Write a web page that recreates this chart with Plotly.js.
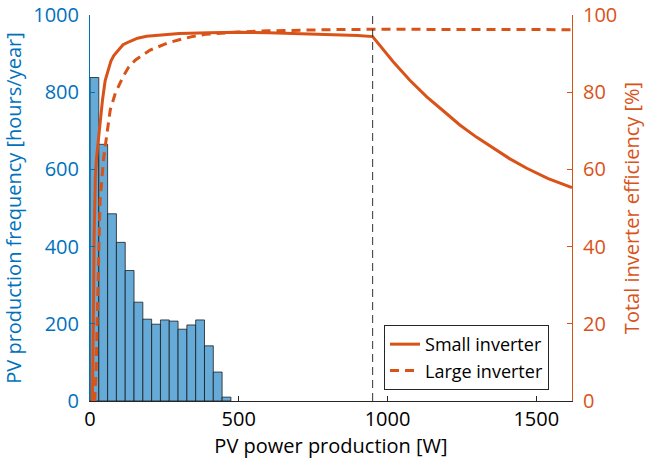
<!DOCTYPE html>
<html>
<head>
<meta charset="utf-8">
<script src="https://cdn.plot.ly/plotly-3.0.1.min.js"></script>
<style>html,body{margin:0;padding:0;background:#fff;}#chart{width:646px;height:464px;}</style>
</head>
<body>
<div id="chart"></div>
<script>
// Histogram: PV production frequency (hours/year) per power bin (W)
var binCenters = [14.8, 44.4, 74.0, 103.6, 133.2, 162.8, 192.4, 222.0, 251.6, 281.2, 310.8, 340.4, 370.0, 399.6, 429.2, 458.8];
var binHours   = [838, 665, 485, 411, 338, 256, 212, 199, 210, 207, 186, 197, 210, 143, 75, 10];
var binWidth = 29.6;

// Small inverter efficiency curve
var smallP   = [8, 10, 12, 14, 15, 18, 22, 28, 35, 42, 51, 60, 70, 80, 95, 111, 135, 160, 190, 240, 300, 400, 500, 600, 700, 800, 900, 950, 1019, 1075, 1132, 1190, 1243, 1300, 1355, 1410, 1468, 1540, 1620];
var smallEff = [0, 9, 26, 43, 52, 58, 63, 68, 74, 78, 83, 85.5, 88, 89.5, 91, 92.3, 93.2, 94, 94.5, 94.9, 95.2, 95.4, 95.5, 95.4, 95.2, 95.0, 94.7, 94.4, 87.9, 83.1, 78.8, 75.0, 71.5, 68.3, 65.5, 62.8, 60.3, 57.6, 55.3];

// Large inverter efficiency curve
var largeP   = [16, 19, 21, 23, 25, 28, 31, 34, 40, 46, 53, 60, 68, 85, 111, 130, 152, 202, 259, 300, 343, 387, 450, 500, 600, 700, 800, 950, 1200, 1620];
var largeEff = [0, 4, 8.8, 17, 26, 35, 43.5, 52, 58, 63, 67, 71.5, 75.4, 79.7, 84, 86.5, 88.3, 90.9, 92.7, 93.6, 94.4, 95.0, 95.4, 95.6, 95.9, 96.1, 96.2, 96.3, 96.3, 96.2];

var ratedPower = 950; // small inverter rated power (dashed marker line)

var xTicks = [0, 500, 1000, 1500];
var yTicks = [0, 200, 400, 600, 800, 1000];
var y2Ticks = [0, 20, 40, 60, 80, 100];

var blue = '#0072BD', orange = '#D95319', dark = '#262626';
var fontFam = 'Open Sans, Lato, sans-serif';

var traces = [
  {
    type: 'bar', x: binCenters, y: binHours, width: binWidth,
    marker: {color: '#66AAD7', line: {color: 'rgba(20,20,20,0.75)', width: 1}},
    showlegend: false, yaxis: 'y', hoverinfo: 'skip'
  },
  {
    type: 'scatter', mode: 'lines', x: smallP, y: smallEff, name: 'Small inverter',
    line: {color: orange, width: 3}, yaxis: 'y2'
  },
  {
    type: 'scatter', mode: 'lines', x: largeP, y: largeEff, name: 'Large inverter',
    line: {color: orange, width: 3, dash: '9px,6px'}, yaxis: 'y2'
  }
];

var layout = {
  width: 646, height: 464,
  margin: {l: 90, r: 74, t: 15, b: 63, pad: 0},
  paper_bgcolor: '#fff', plot_bgcolor: '#fff',
  font: {family: fontFam, size: 20, color: dark},
  bargap: 0,
  showlegend: true,
  legend: {
    x: 0.61, y: 0.197, xanchor: 'left', yanchor: 'top',
    bgcolor: '#fff', bordercolor: dark, borderwidth: 1,
    font: {family: fontFam, size: 18, color: '#000'},
    tracegroupgap: 0
  },
  xaxis: {
    range: [0, 1620], tickvals: xTicks, ticktext: xTicks.map(String),
    ticks: 'inside', ticklen: 5, tickcolor: dark, tickwidth: 1,
    showline: true, linecolor: dark, linewidth: 1, mirror: false,
    showgrid: false, zeroline: false,
    tickfont: {size: 20, color: '#000'},
    title: {text: 'PV power production [W]', font: {size: 20, color: '#000'}, standoff: 6}
  },
  yaxis: {
    range: [0, 1000], tickvals: yTicks, ticktext: yTicks.map(String),
    ticks: 'inside', ticklen: 5, tickcolor: blue, tickwidth: 1,
    showline: true, linecolor: blue, linewidth: 1,
    showgrid: false, zeroline: false,
    tickfont: {size: 20, color: blue},
    ticklabelstandoff: 6,
    title: {text: 'PV production frequency [hours/year]', font: {size: 20, color: blue}, standoff: 8}
  },
  yaxis2: {
    range: [0, 100], tickvals: y2Ticks, ticktext: y2Ticks.map(String),
    overlaying: 'y', side: 'right',
    ticks: 'inside', ticklen: 5, tickcolor: orange, tickwidth: 1,
    showline: true, linecolor: orange, linewidth: 1,
    showgrid: false, zeroline: false,
    tickfont: {size: 20, color: orange},
    ticklabelstandoff: 6,
    title: {text: 'Total inverter efficiency [%]', font: {size: 20, color: orange}, standoff: 8}
  },
  shapes: [{
    type: 'line', xref: 'x', yref: 'paper', x0: ratedPower, x1: ratedPower, y0: 0, y1: 1,
    line: {color: '#333', width: 1, dash: '8px,5px'}, layer: 'above'
  }]
};

Plotly.newPlot('chart', traces, layout, {displayModeBar: false, staticPlot: true});
</script>
</body>
</html>
